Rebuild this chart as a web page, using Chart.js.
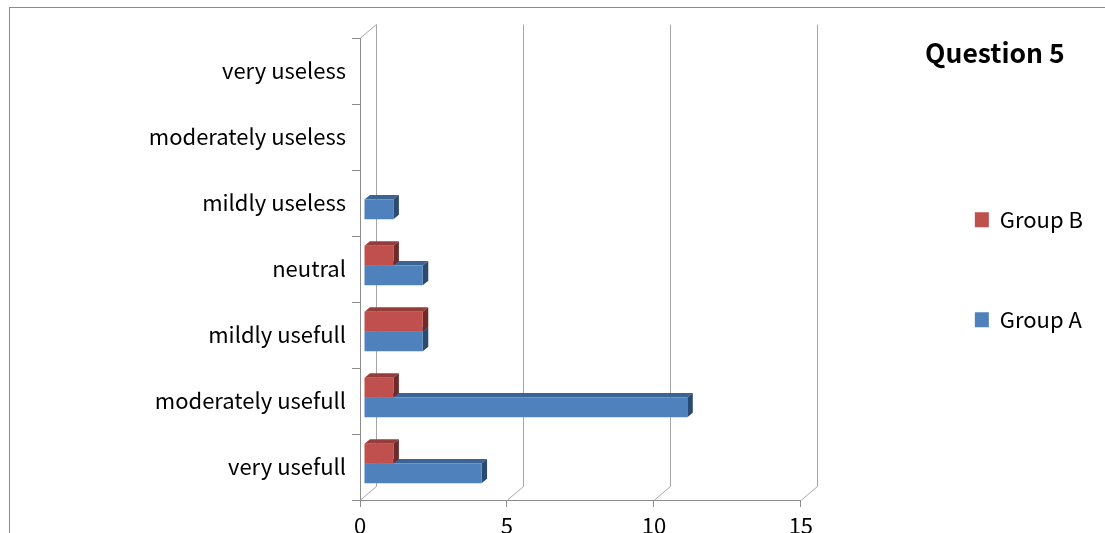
<!DOCTYPE html>
<html>
<head>
<meta charset="utf-8">
<script src="https://cdn.jsdelivr.net/npm/chart.js@4"></script>
<style>
html, body { margin: 0; padding: 0; overflow: hidden; background: #fff; }
#frame { position: absolute; left: 9px; top: 7px; width: 1100px; height: 545px; border: 1px solid #8c8c8c; }
canvas { display: block; }
</style>
</head>
<body>
<div id="frame"><canvas id="q5Chart" width="1100" height="545"></canvas></div>
<script>
// categories, listed top to bottom as in the picture
const categories = ['very useless', 'moderately useless', 'mildly useless', 'neutral',
                    'mildly usefull', 'moderately usefull', 'very usefull'];
const groupA = [0, 0, 1, 2, 2, 11, 4];
const groupB = [0, 0, 0, 1, 2, 1, 1];
const xTicks = [0, 5, 10, 15];

const FONT = '"Noto Sans CJK JP", "Noto Sans", sans-serif';

// fake 3D look: back wall lines + bar top/side faces
const wall = { dx: 16, dy: 13.5 };
const bar3d = { shiftX: 4, shiftY: -3.5, dx: 5.5, dy: 4.5 };

const threeD = {
    id: 'threeD',
    beforeDatasetsDraw(chart) {
        const ctx = chart.ctx;
        const area = chart.chartArea;
        const xs = chart.scales.x;
        ctx.save();
        ctx.strokeStyle = '#a6a6a6';
        ctx.lineWidth = 1;
        ctx.beginPath();
        xTicks.forEach(v => {
            const px = Math.round(xs.getPixelForValue(v)) + 0.5;
            ctx.moveTo(px, area.bottom);
            ctx.lineTo(px + wall.dx, area.bottom - wall.dy);
            ctx.lineTo(px + wall.dx, area.top - wall.dy);
        });
        const lx = Math.round(area.left) + 0.5;
        ctx.moveTo(lx, area.top);
        ctx.lineTo(lx + wall.dx, area.top - wall.dy);
        ctx.stroke();
        ctx.restore();

        ctx.save();
        ctx.translate(bar3d.shiftX, bar3d.shiftY);
        for (let d = chart.data.datasets.length - 1; d >= 0; d--) {
            const ds = chart.data.datasets[d];
            chart.getDatasetMeta(d).data.forEach((bar, i) => {
                if (!ds.data[i]) return;
                const p = bar.getProps(['x', 'y', 'base', 'height'], true);
                const top = p.y - p.height / 2;
                const bottom = p.y + p.height / 2;
                ctx.fillStyle = ds.topColor;
                ctx.beginPath();
                ctx.moveTo(p.base, top);
                ctx.lineTo(p.x, top);
                ctx.lineTo(p.x + bar3d.dx, top - bar3d.dy);
                ctx.lineTo(p.base + bar3d.dx, top - bar3d.dy);
                ctx.closePath();
                ctx.fill();
                ctx.fillStyle = ds.sideColor;
                ctx.beginPath();
                ctx.moveTo(p.x, top);
                ctx.lineTo(p.x + bar3d.dx, top - bar3d.dy);
                ctx.lineTo(p.x + bar3d.dx, bottom - bar3d.dy);
                ctx.lineTo(p.x, bottom);
                ctx.closePath();
                ctx.fill();
            });
        }
    },
    afterDatasetsDraw(chart) {
        chart.ctx.restore();
    }
};

new Chart(document.getElementById('q5Chart'), {
    type: 'bar',
    data: {
        labels: categories,
        datasets: [{
            label: 'Group B',
            data: groupB,
            backgroundColor: '#c0504d',
            topColor: '#943d3b',
            sideColor: '#6e2a28',
            categoryPercentage: 0.6,
            barPercentage: 1.0
        }, {
            label: 'Group A',
            data: groupA,
            backgroundColor: '#4f81bd',
            topColor: '#3b6393',
            sideColor: '#2a4a6f',
            categoryPercentage: 0.6,
            barPercentage: 1.0
        }]
    },
    options: {
        indexAxis: 'y',
        responsive: false,
        animation: false,
        layout: { padding: { top: 30, right: 17, bottom: 13, left: 0 } },
        scales: {
            x: {
                min: 0,
                max: 15,
                afterBuildTicks: s => { s.ticks = xTicks.map(v => ({ value: v })); },
                grid: { drawOnChartArea: false, drawTicks: true, tickLength: 7, color: '#8c8c8c' },
                border: { display: true, color: '#8c8c8c' },
                ticks: { padding: 5, color: '#000', font: { family: FONT, size: 22 } },
                afterFit: s => { s.height = 40; }
            },
            y: {
                grid: { drawOnChartArea: false, tickLength: 8, color: '#8c8c8c' },
                border: { display: true, color: '#8c8c8c' },
                ticks: { padding: 6, color: '#000', font: { family: FONT, size: 22 } },
                afterFit: s => { s.width = 350; }
            },
            // empty spacer between plot and legend
            pad: {
                axis: 'y',
                type: 'linear',
                position: 'right',
                grid: { display: false },
                border: { display: false },
                ticks: { display: false },
                afterFit: s => { s.width = 96; }
            }
        },
        plugins: {
            legend: {
                position: 'right',
                align: 'start',
                maxWidth: 320,
                title: {
                    display: true,
                    text: 'Question 5',
                    color: '#000',
                    font: { family: FONT, size: 26.5, weight: 'bold' },
                    padding: { top: 2, bottom: 59 }
                },
                labels: {
                    color: '#000',
                    boxWidth: 14,
                    boxHeight: 15,
                    padding: 78,
                    font: { family: FONT, size: 22 }
                }
            },
            tooltip: { enabled: false }
        }
    },
    plugins: [threeD]
});
</script>
</body>
</html>
